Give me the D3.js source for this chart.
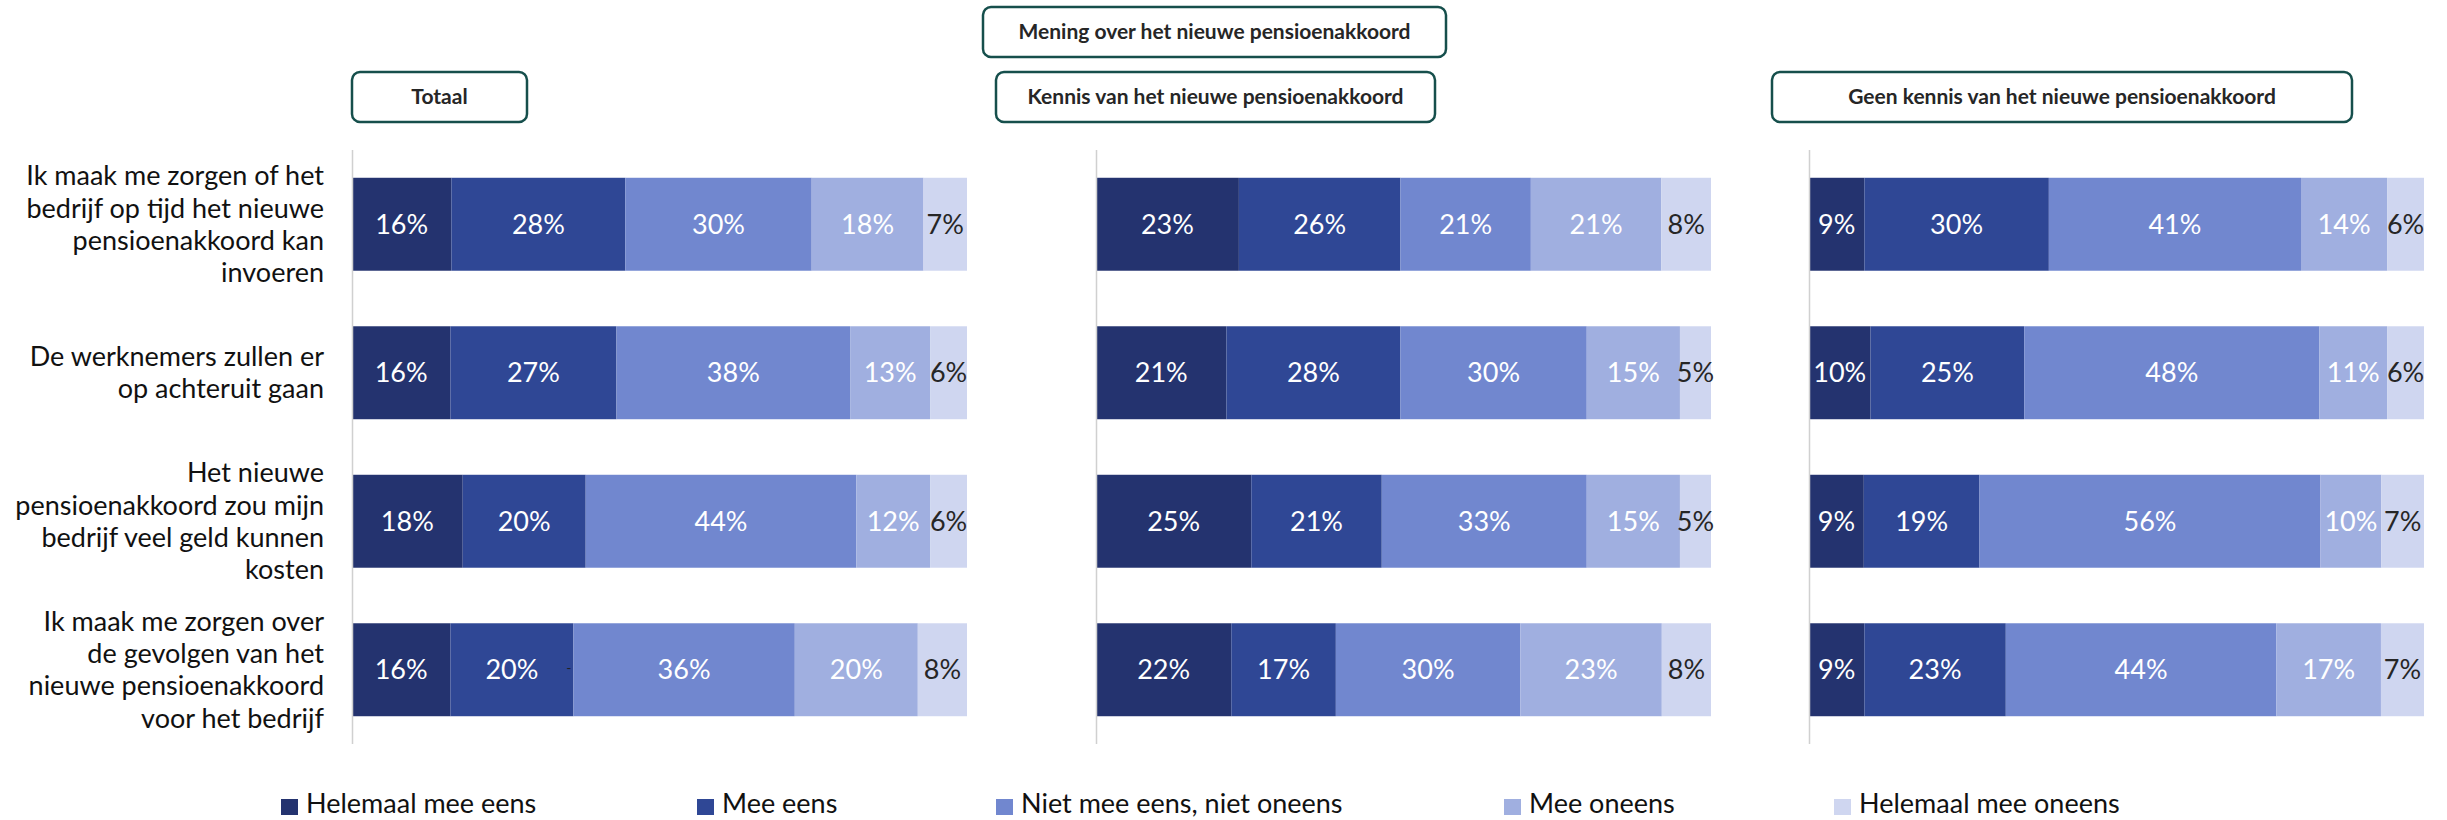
<!DOCTYPE html>
<html>
<head>
<meta charset="utf-8">
<script src="https://cdnjs.cloudflare.com/ajax/libs/d3/7.8.5/d3.min.js"></script>
<style>
    body { margin: 0; background: #fff; }
    svg { display: block; font-family: Lato, "Open Sans", sans-serif; }
</style>
</head>
<body>
<div id="chart"></div>
<script>
/*jslint browser: true*/

// --- data -----------------------------------------------------------------
var categories = ['Helemaal mee eens', 'Mee eens', 'Niet mee eens, niet oneens',
                  'Mee oneens', 'Helemaal mee oneens'];

var questions = [
    ['Ik maak me zorgen of het', 'bedrijf op tijd het nieuwe', 'pensioenakkoord kan', 'invoeren'],
    ['De werknemers zullen er', 'op achteruit gaan'],
    ['Het nieuwe', 'pensioenakkoord zou mijn', 'bedrijf veel geld kunnen', 'kosten'],
    ['Ik maak me zorgen over', 'de gevolgen van het', 'nieuwe pensioenakkoord', 'voor het bedrijf']
];

var panelTitles = ['Totaal', 'Kennis van het nieuwe pensioenakkoord',
                   'Geen kennis van het nieuwe pensioenakkoord'];
var mainTitle = 'Mening over het nieuwe pensioenakkoord';

var totaal = [
    [16, 28, 30, 18, 7],
    [16, 27, 38, 13, 6],
    [18, 20, 44, 12, 6],
    [16, 20, 36, 20, 8]
];
var kennis = [
    [23, 26, 21, 21, 8],
    [21, 28, 30, 15, 5],
    [25, 21, 33, 15, 5],
    [22, 17, 30, 23, 8]
];
var geenKennis = [
    [9, 30, 41, 14, 6],
    [10, 25, 48, 11, 6],
    [9, 19, 56, 10, 7],
    [9, 23, 44, 17, 7]
];

// --- layout / style ---------------------------------------------------------
var W = 2447, H = 820;
var colors = ['#24336f', '#2f4795', '#7187cf', '#a0afe0', '#cfd6f0'];
var labelColors = ['#fff', '#fff', '#fff', '#fff', '#262626'];
var panelX = [352, 1096, 1809];
var panelW = 615;
var plotTop = 150, plotBottom = 744;
var titleBoxes = [   // [centre x, width, top]
    [439.5, 175, 72],
    [1215.5, 439, 72],
    [2062, 580, 72]
];
var mainBox = [1214.5, 463, 7];
var legendX = [281, 697, 996, 1504, 1834];
var legendY = 807;
var fontSize = '27px';

(function (d3) {
    'use strict';

    var panels = [totaal, kennis, geenKennis];

    var svg = d3.select('#chart').append('svg')
        .attr('width', W)
        .attr('height', H);

    var y = d3.scaleBand()
        .domain(d3.range(questions.length))
        .range([plotTop, plotBottom])
        .paddingInner(0.374)
        .paddingOuter(0.187);

    var x = d3.scaleLinear().domain([0, 1]).range([0, panelW]);

    var stack = d3.stack()
        .keys(d3.range(categories.length))
        .value(function (d, k) { return d[k]; })
        .offset(d3.stackOffsetExpand);

    // header boxes
    function box(spec, text) {
        var g = svg.append('g');
        g.append('rect')
            .attr('x', spec[0] - spec[1] / 2)
            .attr('y', spec[2])
            .attr('width', spec[1])
            .attr('height', 50)
            .attr('rx', 8)
            .style('fill', '#fff')
            .style('stroke', '#164f4c')
            .style('stroke-width', 2.5);
        g.append('text')
            .attr('x', spec[0])
            .attr('y', spec[2] + 25)
            .attr('dy', '0.35em')
            .attr('text-anchor', 'middle')
            .style('font-size', '21px')
            .style('font-weight', 'bold')
            .style('fill', '#262626')
            .text(text);
    }
    box(mainBox, mainTitle);
    titleBoxes.forEach(function (b, i) { box(b, panelTitles[i]); });

    // question labels
    var ql = svg.append('g').selectAll('text')
        .data(questions).enter()
      .append('text')
        .attr('text-anchor', 'end')
        .style('font-size', fontSize)
        .style('fill', '#111');
    ql.each(function (lines, i) {
        var cy = y(i) + y.bandwidth() / 2,
            n = lines.length;
        d3.select(this).selectAll('tspan')
            .data(lines).enter()
          .append('tspan')
            .attr('x', 324)
            .attr('y', function (d, j) { return cy + (j - (n - 1) / 2) * 32.3; })
            .attr('dy', '0.35em')
            .text(function (d) { return d; });
    });

    // panels
    panels.forEach(function (rows, p) {
        var g = svg.append('g')
            .attr('transform', 'translate(' + panelX[p] + ',0)');

        var series = stack(rows);

        var layer = g.selectAll('.layer')
            .data(series).enter()
          .append('g')
            .attr('class', 'layer');

        layer.selectAll('rect')
            .data(function (d) { return d; }).enter()
          .append('rect')
            .attr('x', function (d) { return x(d[0]); })
            .attr('y', function (d, i) { return y(i); })
            .attr('width', function (d) { return x(d[1]) - x(d[0]); })
            .attr('height', y.bandwidth())
            .style('fill', function () {
                return colors[d3.select(this.parentNode).datum().key];
            });

        layer.selectAll('text')
            .data(function (d) { return d; }).enter()
          .append('text')
            .attr('x', function (d) { return x((d[0] + d[1]) / 2); })
            .attr('y', function (d, i) { return y(i) + y.bandwidth() / 2; })
            .attr('dy', '0.36em')
            .attr('text-anchor', 'middle')
            .style('font-size', fontSize)
            .style('fill', function () {
                return labelColors[d3.select(this.parentNode).datum().key];
            })
            .text(function (d) {
                var k = d3.select(this.parentNode).datum().key;
                return d.data[k] + '%';
            });

        // vertical category axis line
        g.append('line')
            .attr('x1', 0.5).attr('x2', 0.5)
            .attr('y1', plotTop).attr('y2', plotBottom)
            .style('stroke', '#d0d0d0')
            .style('stroke-width', 1.5);
    });

    // stray dash label in the reference (Totaal, last question)
    var s0 = stack(totaal)[1][3];
    svg.append('text')
        .attr('x', panelX[0] + x(s0[1]) - 2)
        .attr('y', y(3) + y.bandwidth() / 2)
        .attr('dy', '0.2em')
        .attr('text-anchor', 'end')
        .style('font-size', '14px')
        .style('fill', '#222')
        .text('-');

    // legend
    var lg = svg.append('g').selectAll('g')
        .data(categories).enter()
      .append('g')
        .attr('transform', function (d, i) {
            return 'translate(' + legendX[i] + ',' + legendY + ')';
        });
    lg.append('rect')
        .attr('x', 0).attr('y', -8)
        .attr('width', 17).attr('height', 16)
        .style('fill', function (d, i) { return colors[i]; });
    lg.append('text')
        .attr('x', 25)
        .attr('y', 6)
        .style('font-size', fontSize)
        .style('fill', '#111')
        .text(function (d) { return d; });

}(window.d3));
</script>
</body>
</html>
